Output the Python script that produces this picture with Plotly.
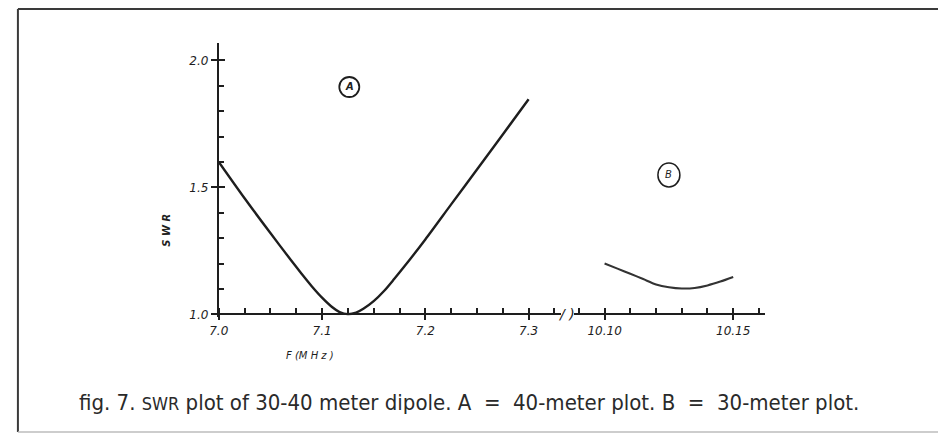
import plotly.graph_objects as go

# ---- data ----
a_freq = [7.000, 7.025, 7.050, 7.070, 7.080, 7.090, 7.100, 7.110, 7.117, 7.125,
          7.133, 7.140, 7.150, 7.160, 7.170, 7.180, 7.200, 7.225, 7.250, 7.275, 7.300]
a_swr = [1.600, 1.457, 1.320, 1.213, 1.161, 1.111, 1.066, 1.028, 1.009, 1.001,
         1.007, 1.022, 1.052, 1.092, 1.140, 1.190, 1.295, 1.433, 1.570, 1.708, 1.847]

b_freq = [10.100, 10.105, 10.110, 10.115, 10.120, 10.125, 10.130, 10.135, 10.140, 10.145, 10.150]
b_swr = [1.200, 1.180, 1.160, 1.139, 1.118, 1.107, 1.102, 1.104, 1.114, 1.129, 1.147]

a_major = [7.0, 7.1, 7.2, 7.3]
a_major_labels = ["7.0", "7.1", "7.2", "7.3"]
b_major = [10.10, 10.15]
b_major_labels = ["10.10", "10.15"]
y_major = [1.0, 1.5, 2.0]
y_major_labels = ["1.0", "1.5", "2.0"]

label_a = "A"
label_b = "B"
y_title = "S W R"
x_title = "F (M H z )"
caption = ("fig. 7. <span style='font-size:18px'>SWR</span> plot of 30-40 meter dipole. "
           "A&nbsp;&nbsp;=&nbsp;&nbsp;40-meter plot. B&nbsp;&nbsp;=&nbsp;&nbsp;30-meter plot.")

# ---- layout geometry ----
W, H = 938, 438
def fx(p):
    return p / W
def fy(p):
    return 1 - p / H

INK = "#1e1e1e"
tick_font = dict(family="DejaVu Sans", size=12, color=INK, style="italic")

fig = go.Figure()
fig.add_trace(go.Scatter(x=a_freq, y=a_swr, mode="lines", xaxis="x", yaxis="y",
                         line=dict(color=INK, width=2.4, shape="spline", smoothing=0.8),
                         showlegend=False, hoverinfo="skip"))
fig.add_trace(go.Scatter(x=b_freq, y=b_swr, mode="lines", xaxis="x2", yaxis="y",
                         line=dict(color="#333333", width=2.1, shape="spline", smoothing=0.8),
                         showlegend=False, hoverinfo="skip"))
# empty traces so overlay axes get drawn
for xa, ya in [("x3", "y"), ("x4", "y"), ("x", "y2")]:
    fig.add_trace(go.Scatter(x=[], y=[], xaxis=xa, yaxis=ya, showlegend=False))

x1_range = [7.0, 7.0 + (557 - 211) / 1044]
x2_range = [10.10 - 31 / 2600, 10.10 + 162 / 2600]
y_range = [0.99, 1.0 + 275 / 257]
x1_dom = [fx(211), fx(557)]
x2_dom = [fx(570), fx(763)]
y_dom = [fy(318 + 0.01 * 257), fy(43)]
axis_pos = fy(318)

common_x = dict(showgrid=False, zeroline=False, anchor="free", position=axis_pos,
                tickfont=tick_font, tickcolor=INK, tickwidth=1.5)

fig.update_layout(
    width=W, height=H,
    margin=dict(l=0, r=0, t=0, b=0),
    paper_bgcolor="white", plot_bgcolor="rgba(0,0,0,0)",
    xaxis=dict(domain=x1_dom, range=x1_range, showline=True, linecolor=INK, linewidth=1.6,
               tickmode="array", tickvals=a_major, ticktext=a_major_labels,
               ticks="outside", ticklen=5,
               minor=dict(ticks="inside", dtick=0.025, tick0=7.0, ticklen=6,
                          tickcolor=INK, tickwidth=1.5, showgrid=False),
               **common_x),
    xaxis2=dict(domain=x2_dom, range=x2_range, showline=True, linecolor=INK, linewidth=1.6,
                tickmode="array", tickvals=b_major, ticktext=b_major_labels,
                ticks="outside", ticklen=5,
                minor=dict(ticks="inside", dtick=0.01, tick0=10.10, ticklen=6,
                           tickcolor=INK, tickwidth=1.5, showgrid=False),
                **common_x),
    xaxis3=dict(domain=x1_dom, range=x1_range, overlaying="x", showline=False,
                tickmode="array", tickvals=a_major, ticks="inside", ticklen=6,
                showticklabels=False, **common_x),
    xaxis4=dict(domain=x2_dom, range=x2_range, overlaying="x2", showline=False,
                tickmode="array", tickvals=b_major, ticks="inside", ticklen=6,
                showticklabels=False, **common_x),
    yaxis=dict(domain=y_dom, range=y_range, anchor="x", showline=True, linecolor=INK,
               linewidth=1.8, showgrid=False, zeroline=False,
               tickmode="array", tickvals=y_major, ticktext=y_major_labels,
               ticks="outside", ticklen=6, tickcolor=INK, tickwidth=1.5,
               tickfont=tick_font,
               minor=dict(ticks="inside", dtick=0.1, tick0=1.0, ticklen=5,
                          tickcolor=INK, tickwidth=1.5, showgrid=False)),
    yaxis2=dict(domain=y_dom, range=y_range, anchor="x", overlaying="y", showline=False,
                showgrid=False, zeroline=False, tickmode="array", tickvals=y_major,
                ticks="inside", ticklen=6, tickcolor=INK, tickwidth=1.5,
                showticklabels=False),
)

# circled labels
fig.add_shape(type="circle", xref="x", yref="y", xsizemode="pixel", ysizemode="pixel",
              xanchor=7.1264, yanchor=1.895, x0=-10, x1=10, y0=-10, y1=10,
              line=dict(color=INK, width=1.8))
fig.add_annotation(x=7.1264, y=1.895, xref="x", yref="y", text=label_a, showarrow=False,
                   xanchor="center", yanchor="middle",
                   font=dict(family="DejaVu Sans", size=10, color=INK, style="italic", weight="bold"))
fig.add_shape(type="circle", xref="x2", yref="y", xsizemode="pixel", ysizemode="pixel",
              xanchor=10.125, yanchor=1.549, x0=-11, x1=11, y0=-12, y1=12,
              line=dict(color=INK, width=1.5))
fig.add_annotation(x=10.125, y=1.549, xref="x2", yref="y", text=label_b, showarrow=False,
                   xanchor="center", yanchor="middle",
                   font=dict(family="DejaVu Sans", size=10, color=INK, style="italic"))

# axis titles
fig.add_annotation(x=fx(158), y=fy(233), xref="paper", yref="paper", text=y_title,
                   textangle=-90, showarrow=False, xanchor="center", yanchor="middle",
                   font=dict(family="DejaVu Sans", size=10, color=INK, style="italic", weight="bold"))
fig.add_annotation(x=fx(303), y=fy(360), xref="paper", yref="paper", text=x_title,
                   showarrow=False, xanchor="center", yanchor="middle",
                   font=dict(family="DejaVu Sans", size=10, color=INK, style="italic"))

# axis break mark
fig.add_annotation(x=fx(563), y=fy(318), xref="paper", yref="paper", text="/ )",
                   showarrow=False, xanchor="center", yanchor="middle",
                   font=dict(family="DejaVu Sans", size=14, color=INK, style="italic"))

# caption
fig.add_annotation(x=fx(68), y=fy(407), xref="paper", yref="paper",
                   xanchor="left", yanchor="middle",
                   text=caption, showarrow=False,
                   font=dict(family="DejaVu Sans Condensed, Liberation Sans Narrow, Roboto",
                             size=22, color="#2a2a2a"))

# frame (top, left, faint bottom)
fig.add_shape(type="line", xref="paper", yref="paper", x0=fx(8), x1=1, y0=fy(9), y1=fy(9),
              line=dict(color="#3a3a3a", width=2))
fig.add_shape(type="line", xref="paper", yref="paper", x0=fx(8), x1=fx(8), y0=fy(9), y1=fy(437),
              line=dict(color="#3a3a3a", width=2))
fig.add_shape(type="line", xref="paper", yref="paper", x0=fx(8), x1=1, y0=fy(437), y1=fy(437),
              line=dict(color="#bdbdbd", width=1.5))

fig.write_html("out.html", config={"displayModeBar": False},
               post_script="document.body.style.margin='0';document.body.style.overflow='hidden';")
